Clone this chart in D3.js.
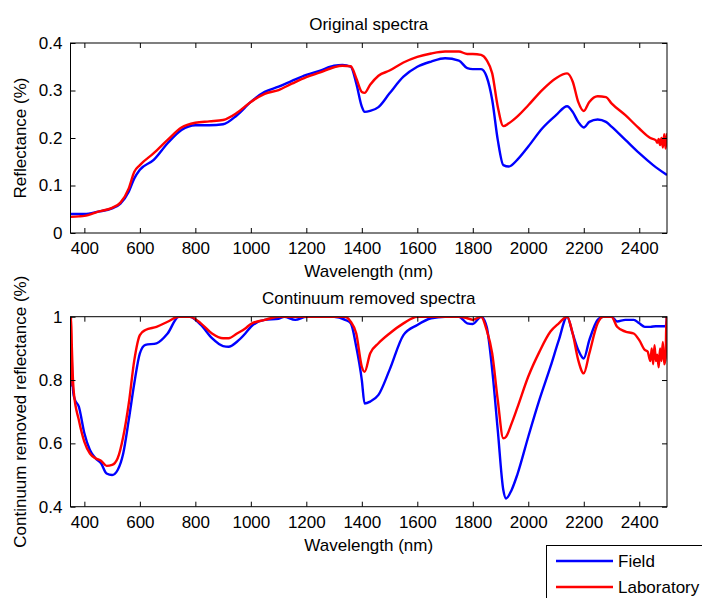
<!DOCTYPE html>
<html>
<head>
<meta charset="utf-8">
<script src="https://cdn.jsdelivr.net/npm/d3@7"></script>
<style>
  html, body { margin: 0; padding: 0; background: #fff; }
  svg { display: block; }
  text { font-family: "Liberation Sans", Arial, Helvetica, sans-serif; fill: #000; }
</style>
</head>
<body>
<svg id="chart" width="702" height="598"></svg>
<script>
// ---------- DATA ----------
const xTicks = [400, 600, 800, 1000, 1200, 1400, 1600, 1800, 2000, 2200, 2400];
const yTicksOrig = [0, 0.1, 0.2, 0.3, 0.4];
const yTicksCR = [0.4, 0.6, 0.8, 1];
const seriesNames = ["Field", "Laboratory"];

// Original spectra – Field
const origFieldWl = [350,380,400,450,500,530,560,580,600,650,700,750,800,850,900,950,1000,1050,1100,1150,1200,1250,1300,1330,1360,1380,1400,1410,1430,1460,1500,1550,1600,1650,1700,1750,1780,1800,1830,1850,1870,1890,1910,1930,1960,2000,2050,2100,2140,2160,2180,2200,2220,2250,2280,2300,2350,2400,2450,2500];
const origFieldVal = [0.040,0.040,0.040,0.045,0.052,0.062,0.087,0.115,0.133,0.154,0.189,0.217,0.227,0.227,0.229,0.248,0.276,0.297,0.308,0.321,0.333,0.342,0.352,0.354,0.350,0.315,0.266,0.255,0.257,0.265,0.294,0.329,0.350,0.361,0.368,0.363,0.347,0.345,0.345,0.329,0.280,0.196,0.143,0.140,0.154,0.182,0.220,0.248,0.267,0.255,0.234,0.222,0.234,0.239,0.234,0.224,0.196,0.168,0.143,0.122];

// Original spectra – Laboratory
const origLabWl = [350,380,400,450,500,530,560,580,600,650,700,750,800,850,900,950,1000,1050,1100,1150,1200,1250,1300,1330,1360,1380,1400,1410,1430,1460,1500,1550,1600,1650,1700,1750,1780,1800,1830,1850,1870,1890,1910,1930,1960,2000,2050,2100,2140,2160,2180,2200,2220,2250,2280,2300,2350,2400,2440,2460,2465,2470,2475,2480,2485,2490,2495,2500];
const origLabVal = [0.034,0.035,0.036,0.045,0.053,0.064,0.094,0.129,0.143,0.168,0.196,0.222,0.232,0.235,0.238,0.253,0.276,0.293,0.301,0.315,0.328,0.338,0.349,0.352,0.351,0.326,0.297,0.295,0.312,0.331,0.342,0.359,0.371,0.378,0.382,0.382,0.377,0.377,0.375,0.364,0.336,0.266,0.225,0.231,0.245,0.269,0.301,0.326,0.336,0.319,0.276,0.257,0.276,0.288,0.286,0.273,0.248,0.220,0.200,0.195,0.190,0.198,0.185,0.200,0.180,0.208,0.178,0.210];

// Continuum removed – Field
const crFieldWl = [350,353,356,360,365,380,400,420,440,460,480,500,520,540,560,580,600,620,660,700,740,780,820,860,900,920,950,980,1000,1050,1100,1120,1160,1200,1300,1340,1360,1380,1400,1410,1430,1460,1500,1550,1600,1650,1700,1750,1780,1800,1830,1850,1870,1890,1910,1920,1940,1960,2000,2040,2080,2110,2140,2160,2180,2200,2220,2250,2270,2300,2320,2350,2380,2400,2420,2440,2460,2480,2495,2500];
const crFieldVal = [0.78,0.90,0.82,0.76,0.74,0.716,0.632,0.579,0.553,0.537,0.505,0.500,0.516,0.568,0.674,0.790,0.884,0.911,0.916,0.947,1.0,1.0,0.974,0.932,0.907,0.905,0.921,0.947,0.968,0.990,0.993,1.0,0.990,1.0,1.0,0.990,0.979,0.905,0.800,0.726,0.732,0.753,0.832,0.942,0.974,0.995,1.0,1.0,0.979,0.977,1.0,0.968,0.832,0.642,0.453,0.426,0.453,0.500,0.621,0.737,0.842,0.926,1.0,0.947,0.895,0.868,0.926,0.990,1.0,1.0,0.985,0.990,0.990,0.979,0.968,0.968,0.970,0.970,0.970,1.0];

// Continuum removed – Laboratory
const crLabWl = [350,352,355,358,362,380,400,420,440,460,480,500,520,540,560,580,600,620,660,700,740,780,820,860,900,920,950,980,1000,1050,1100,1300,1340,1360,1380,1400,1410,1430,1460,1500,1550,1600,1750,1780,1800,1830,1850,1870,1890,1910,1920,1940,1960,2000,2040,2080,2110,2140,2160,2180,2200,2220,2250,2270,2300,2320,2350,2380,2400,2420,2430,2440,2445,2450,2455,2460,2465,2470,2475,2480,2485,2490,2495,2498,2500];
const crLabVal = [0.78,1.0,0.90,0.82,0.76,0.674,0.605,0.568,0.553,0.545,0.529,0.532,0.553,0.621,0.726,0.863,0.942,0.958,0.968,0.984,1.0,1.0,0.979,0.947,0.932,0.932,0.947,0.963,0.977,0.990,1.0,1.0,1.0,0.984,0.947,0.842,0.826,0.884,0.916,0.947,0.979,1.0,1.0,0.995,0.990,1.0,0.958,0.884,0.737,0.616,0.621,0.663,0.711,0.811,0.889,0.953,0.979,1.0,0.947,0.863,0.821,0.884,0.979,1.0,1.0,0.968,0.953,0.947,0.926,0.895,0.890,0.860,0.900,0.850,0.910,0.860,0.880,0.840,0.900,0.860,0.920,0.850,0.870,1.0,0.940];

// ---------- DRAW ----------
const svg = d3.select("#chart");
const COLORS = { Field: "#0000ff", Laboratory: "#ff0000" };
const FS = 17;
const left = 70.5, right = 667;
const x = d3.scaleLinear().domain([350, 2500]).range([left, right]);

function zip(wl, v) { return wl.map((w, i) => [w, v[i]]); }

function panel(cfg) {
  const y = d3.scaleLinear().domain(cfg.yDomain).range([cfg.bottom, cfg.top]);
  const g = svg.append("g");
  const clipId = "clip" + cfg.id;
  svg.append("clipPath").attr("id", clipId).append("rect")
    .attr("x", left).attr("y", cfg.top).attr("width", right - left).attr("height", cfg.bottom - cfg.top);

  const line = d3.line().curve(d3.curveMonotoneX).x(d => x(d[0])).y(d => y(d[1]));
  const lg = g.append("g").attr("clip-path", `url(#${clipId})`);
  cfg.series.forEach(s => {
    lg.append("path").datum(zip(s.wl, s.val))
      .attr("fill", "none").attr("stroke", COLORS[s.name])
      .attr("stroke-width", 2.4).attr("stroke-linejoin", "round")
      .attr("d", line);
  });

  const tl = 5;
  const axB = d3.axisBottom(x).tickValues(xTicks).tickFormat(d3.format("d")).tickSizeInner(-tl).tickSizeOuter(0).tickPadding(tl + 4);
  const axT = d3.axisTop(x).tickValues(xTicks).tickFormat("").tickSizeInner(-tl).tickSizeOuter(0);
  const axL = d3.axisLeft(y).tickValues(cfg.yTicks).tickFormat(d => d3.format("")(+d.toFixed(2))).tickSizeInner(-tl).tickSizeOuter(0).tickPadding(tl + 3);
  const axR = d3.axisRight(y).tickValues(cfg.yTicks).tickFormat("").tickSizeInner(-tl).tickSizeOuter(0);

  const gb = g.append("g").attr("transform", `translate(0,${cfg.bottom})`).call(axB);
  const gt = g.append("g").attr("transform", `translate(0,${cfg.top})`).call(axT);
  const gl = g.append("g").attr("transform", `translate(${left},0)`).call(axL);
  const gr = g.append("g").attr("transform", `translate(${right},0)`).call(axR);
  [gb, gt, gl, gr].forEach(a => {
    a.select(".domain").remove();
    a.selectAll("line").attr("stroke", "#000").attr("stroke-width", 1);
    a.selectAll("text").attr("font-size", FS).attr("font-family", '"Liberation Sans", Arial, sans-serif').attr("fill", "#000");
  });
  g.append("rect").attr("x", left).attr("y", cfg.top).attr("width", right - left).attr("height", cfg.bottom - cfg.top)
    .attr("fill", "none").attr("stroke", "#000").attr("stroke-width", 1);

  const cx = (left + right) / 2;
  g.append("text").attr("x", cx).attr("y", cfg.top - 13).attr("text-anchor", "middle").attr("font-size", FS).text(cfg.title);
  g.append("text").attr("x", cx).attr("y", cfg.bottom + 44).attr("text-anchor", "middle").attr("font-size", FS).text("Wavelength (nm)");
  g.append("text").attr("transform", `translate(26,${(cfg.top + cfg.bottom) / 2}) rotate(-90)`)
    .attr("text-anchor", "middle").attr("font-size", FS).text(cfg.yLabel);
}

panel({
  id: 1, top: 43, bottom: 233, yDomain: [0, 0.4], yTicks: yTicksOrig,
  title: "Original spectra", yLabel: "Reflectance (%)",
  series: [
    { name: "Field", wl: origFieldWl, val: origFieldVal },
    { name: "Laboratory", wl: origLabWl, val: origLabVal }
  ]
});
panel({
  id: 2, top: 316.7, bottom: 506.7, yDomain: [0.4, 1], yTicks: yTicksCR,
  title: "Continuum removed spectra", yLabel: "Continuum removed reflectance (%)",
  series: [
    { name: "Field", wl: crFieldWl, val: crFieldVal },
    { name: "Laboratory", wl: crLabWl, val: crLabVal }
  ]
});

// legend
const leg = svg.append("g");
leg.append("rect").attr("x", 546.5).attr("y", 545.5).attr("width", 200).attr("height", 80)
  .attr("fill", "#fff").attr("stroke", "#000").attr("stroke-width", 1);
seriesNames.forEach((n, i) => {
  const yy = 561 + i * 26;
  leg.append("line").attr("x1", 556).attr("x2", 613).attr("y1", yy).attr("y2", yy)
    .attr("stroke", COLORS[n]).attr("stroke-width", 2.4);
  leg.append("text").attr("x", 618).attr("y", yy + 6).attr("font-size", FS).text(n);
});
</script>
</body>
</html>
